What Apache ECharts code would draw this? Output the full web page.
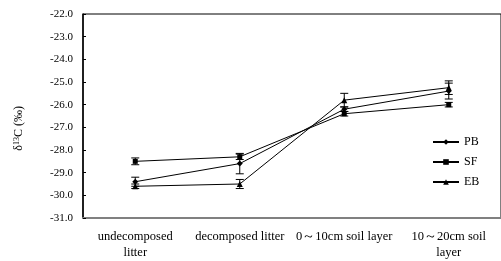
<!DOCTYPE html>
<html>
<head>
<meta charset="utf-8">
<script src="https://cdn.jsdelivr.net/npm/echarts@6/dist/echarts.min.js"></script>
<style>
html, body { margin: 0; padding: 0; background: #fff; }
#chart { width: 501px; height: 261px; }
</style>
</head>
<body>
<div id="chart"></div>
<script>
// stages along the decomposition / soil profile
var categories = ['undecomposed\nlitter', 'decomposed litter', '0\uff5e10cm soil layer', '10\uff5e20cm soil\nlayer'];
var yTicks = [-31, -30, -29, -28, -27, -26, -25, -24, -23, -22];

// mean delta 13C values
var pb = [-29.4, -28.6, -26.2, -25.4];
var sf = [-28.5, -28.3, -26.4, -26.0];
var eb = [-29.6, -29.5, -25.8, -25.25];

// standard errors
var pbErr = [0.2, 0.45, 0.1, 0.35];
var sfErr = [0.15, 0.12, 0.1, 0.1];
var ebErr = [0.1, 0.2, 0.3, 0.3];

var font = 'Liberation Serif';

var myChart = echarts.init(document.getElementById('chart'));

function errData(vals, errs) {
    return vals.map(function (v, i) { return [i, v, errs[i]]; });
}

function renderErr(params, api) {
    var x = api.value(0);
    var v = api.value(1);
    var e = api.value(2);
    var hi = api.coord([x, v + e]);
    var lo = api.coord([x, v - e]);
    var w = 4;
    var st = { stroke: '#000', lineWidth: 1 };
    return {
        type: 'group',
        children: [
            { type: 'line', shape: { x1: hi[0], y1: hi[1], x2: lo[0], y2: lo[1] }, style: st },
            { type: 'line', shape: { x1: hi[0] - w, y1: hi[1], x2: hi[0] + w, y2: hi[1] }, style: st },
            { type: 'line', shape: { x1: lo[0] - w, y1: lo[1], x2: lo[0] + w, y2: lo[1] }, style: st }
        ]
    };
}

function lineSeries(name, data, symbol, size) {
    return {
        name: name,
        type: 'line',
        data: data,
        symbol: symbol,
        symbolSize: size,
        color: '#000',
        lineStyle: { color: '#000', width: 1 },
        itemStyle: { color: '#000' },
        z: 3
    };
}

function errSeries(vals, errs) {
    return {
        type: 'custom',
        data: errData(vals, errs),
        renderItem: renderErr,
        encode: { x: 0, y: 1 },
        silent: true,
        z: 2
    };
}

var option = {
    animation: false,
    grid: {
        left: 83,
        top: 14,
        width: 427,
        height: 205,
        show: true,
        borderColor: '#000',
        borderWidth: 1
    },
    legend: {
        orient: 'vertical',
        left: 427,
        top: 131,
        itemWidth: 26,
        itemHeight: 7,
        itemGap: 8,
        textStyle: { fontFamily: font, fontSize: 12, color: '#000' },
        data: ['PB', 'SF', 'EB']
    },
    xAxis: {
        type: 'category',
        data: categories,
        boundaryGap: true,
        axisLine: { lineStyle: { color: '#808080', width: 2 } },
        axisTick: { show: false },
        axisLabel: {
            fontFamily: font,
            fontSize: 12.5,
            color: '#000',
            margin: 11,
            lineHeight: 16,
            interval: 0
        }
    },
    yAxis: {
        type: 'value',
        min: yTicks[0],
        max: yTicks[yTicks.length - 1],
        interval: 1,
        splitLine: { show: false },
        axisLine: { show: true, lineStyle: { color: '#000', width: 1.5 } },
        axisTick: { show: true, inside: true, length: 3, lineStyle: { color: '#000' } },
        axisLabel: {
            fontFamily: font,
            fontSize: 11,
            color: '#000',
            margin: 10,
            formatter: function (v) { return v.toFixed(1); }
        }
    },
    graphic: [{
        type: 'text',
        left: 13,
        top: 106,
        rotation: Math.PI / 2,
        style: {
            text: '\u03b4{sup|13}C (\u2030)',
            fontFamily: font,
            fontSize: 12,
            fill: '#000',
            rich: { sup: { fontSize: 8, verticalAlign: 'top', fontFamily: font } }
        }
    }],
    series: [
        errSeries(pb, pbErr),
        errSeries(sf, sfErr),
        errSeries(eb, ebErr),
        lineSeries('PB', pb, 'diamond', 6),
        lineSeries('SF', sf, 'rect', 5),
        lineSeries('EB', eb, 'triangle', 6)
    ]
};

myChart.setOption(option);
</script>
</body>
</html>
